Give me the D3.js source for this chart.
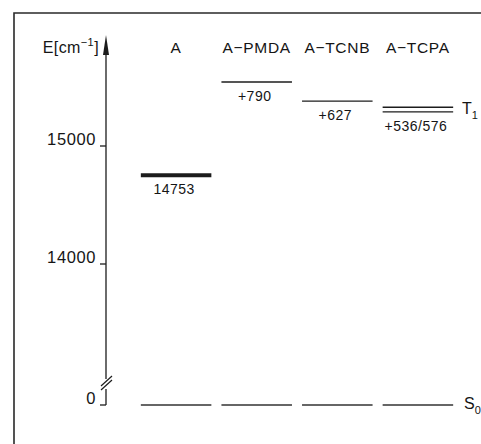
<!DOCTYPE html>
<html><head><meta charset="utf-8">
<script src="https://cdn.jsdelivr.net/npm/d3@7"></script>
<style>
html,body{margin:0;padding:0;background:#fff;overflow:hidden}
text{font-family:"Liberation Sans",Arial,sans-serif;fill:#151515}
</style></head>
<body>
<svg id="chart" width="481" height="444"></svg>
<script>
// ---- data ----
const categories = ["A", "A\u2212PMDA", "A\u2212TCNB", "A\u2212TCPA"];
const t1Values = [[14753], [15543], [15380], [15289, 15329]];
const t1Labels = ["14753", "+790", "+627", "+536/576"];
const s0Values = [0, 0, 0, 0];
const tickValues = [0, 14000, 15000];
const tickLabels = ["0", "14000", "15000"];
const axisTop = 15940;
const breakValue = 13000;

const svg = d3.select("#chart");
const ink = "#1c1c1c";

// piecewise scale with axis break
const y = d3.scaleLinear().domain([0, breakValue, 16000]).range([405, 382, 28]);
const x = d3.scaleBand().domain(categories).range([136, 458]).paddingInner(0.125).paddingOuter(0.06);

// frame
svg.append("path").attr("d", "M14,450 L14,13 L490,13")
  .attr("fill", "none").attr("stroke", "#2a2a2a").attr("stroke-width", 1.6);

const ax = 106;
// axis line (upper part)
svg.append("line").attr("x1", ax).attr("x2", ax).attr("y1", y(axisTop) + 10).attr("y2", y(breakValue) - 3)
  .attr("stroke", ink).attr("stroke-width", 1.3);
// arrow head
svg.append("path")
  .attr("d", `M${ax},${y(axisTop)} L${ax - 3},${y(axisTop) + 20} L${ax + 3},${y(axisTop) + 20} Z`)
  .attr("fill", ink);
// lower part
svg.append("line").attr("x1", ax).attr("x2", ax).attr("y1", y(breakValue) + 7).attr("y2", y(0))
  .attr("stroke", ink).attr("stroke-width", 1.3);
// break marks
[0, 4].forEach(off => {
  svg.append("line").attr("x1", ax - 5).attr("y1", y(breakValue) + 4 + off)
    .attr("x2", ax + 6).attr("y2", y(breakValue) - 6 + off)
    .attr("stroke", ink).attr("stroke-width", 1.2);
});

// ticks
const ticks = svg.append("g");
tickValues.forEach((v, i) => {
  ticks.append("line").attr("x1", ax - 6).attr("x2", ax).attr("y1", y(v)).attr("y2", y(v))
    .attr("stroke", ink).attr("stroke-width", 1.3);
  ticks.append("text").attr("x", ax - 10).attr("y", y(v) - 1)
    .attr("text-anchor", "end").attr("font-size", 16.5).attr("letter-spacing", 0.6)
    .text(tickLabels[i]);
});

// axis title
const et = svg.append("text").attr("x", 99).attr("y", 53).attr("text-anchor", "end")
  .attr("font-size", 16).attr("letter-spacing", 0.4);
et.append("tspan").text("E[cm");
et.append("tspan").attr("font-size", 11).attr("dy", -7).text("\u22121");
et.append("tspan").attr("dy", 7).text("]");

// column titles
svg.selectAll(".coltitle").data(categories).join("text")
  .attr("x", d => x(d) + x.bandwidth() / 2).attr("y", 53)
  .attr("text-anchor", "middle").attr("font-size", 15.5).attr("letter-spacing", 0.7)
  .text(d => d);

// T1 levels
categories.forEach((c, i) => {
  const vals = t1Values[i];
  const thick = i === 0;
  vals.forEach(v => {
    svg.append("line").attr("x1", x(c)).attr("x2", x(c) + x.bandwidth())
      .attr("y1", y(v)).attr("y2", y(v))
      .attr("stroke", ink).attr("stroke-width", thick ? 4 : 1.4);
  });
  const low = d3.min(vals);
  svg.append("text").attr("x", x(c) + x.bandwidth() / 2 - 2).attr("y", y(low) + 19)
    .attr("text-anchor", "middle").attr("font-size", 14).attr("letter-spacing", 0.5)
    .text(t1Labels[i]);
});

// S0 levels
categories.forEach((c, i) => {
  svg.append("line").attr("x1", x(c)).attr("x2", x(c) + x.bandwidth())
    .attr("y1", y(s0Values[i])).attr("y2", y(s0Values[i]))
    .attr("stroke", "#333").attr("stroke-width", 1.4);
});

// state labels
const t1 = svg.append("text").attr("x", 462).attr("y", y(d3.mean(t1Values[3])) + 4).attr("font-size", 16);
t1.append("tspan").text("T");
t1.append("tspan").attr("font-size", 11).attr("dy", 5).text("1");
const s0 = svg.append("text").attr("x", 464).attr("y", y(0) + 4).attr("font-size", 16);
s0.append("tspan").text("S");
s0.append("tspan").attr("font-size", 11).attr("dy", 5).text("0");
</script>
</body></html>
